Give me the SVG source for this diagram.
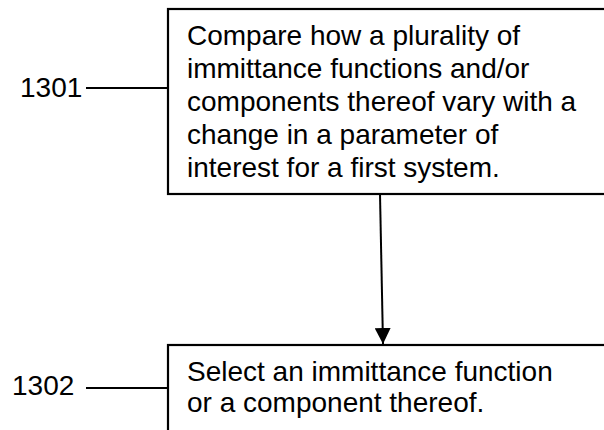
<svg xmlns="http://www.w3.org/2000/svg" width="604" height="430" viewBox="0 0 604 430">
<defs>
<marker id="ah" markerUnits="userSpaceOnUse" markerWidth="18" markerHeight="16" refX="16" refY="8" orient="auto">
<path d="M0,0 L16,8 L0,16 Z" fill="#000"/>
</marker>
<style>
.box{fill:#fff;stroke:#000;stroke-width:2.2}
.ln{stroke:#000;stroke-width:2;fill:none}
.t{font-family:"Liberation Sans",Arial,sans-serif;font-size:28px;fill:#000}
</style>
</defs>
<rect width="604" height="430" fill="#fff"/>
<g id="node1301">
<rect class="box" x="168" y="9" width="440" height="185"/>
<text class="t" x="187" y="45">Compare how a plurality of</text>
<text class="t" x="187" y="78">immittance functions and/or</text>
<text class="t" x="187" y="111">components thereof vary with a</text>
<text class="t" x="187" y="144">change in a parameter of</text>
<text class="t" x="187" y="177">interest for a first system.</text>
</g>
<g id="label1301">
<text class="t" x="20" y="97">1301</text>
<line class="ln" x1="86" y1="88" x2="168" y2="88"/>
</g>
<g id="node1302">
<rect class="box" x="168" y="345" width="440" height="100"/>
<text class="t" x="187" y="381">Select an immittance function</text>
<text class="t" x="187" y="412">or a component thereof.</text>
</g>
<g id="label1302">
<text class="t" x="12" y="395">1302</text>
<line class="ln" x1="86" y1="388" x2="168" y2="388"/>
</g>
<g id="connectors">
<line class="ln" x1="380" y1="194" x2="383" y2="344" marker-end="url(#ah)"/>
</g>
</svg>
